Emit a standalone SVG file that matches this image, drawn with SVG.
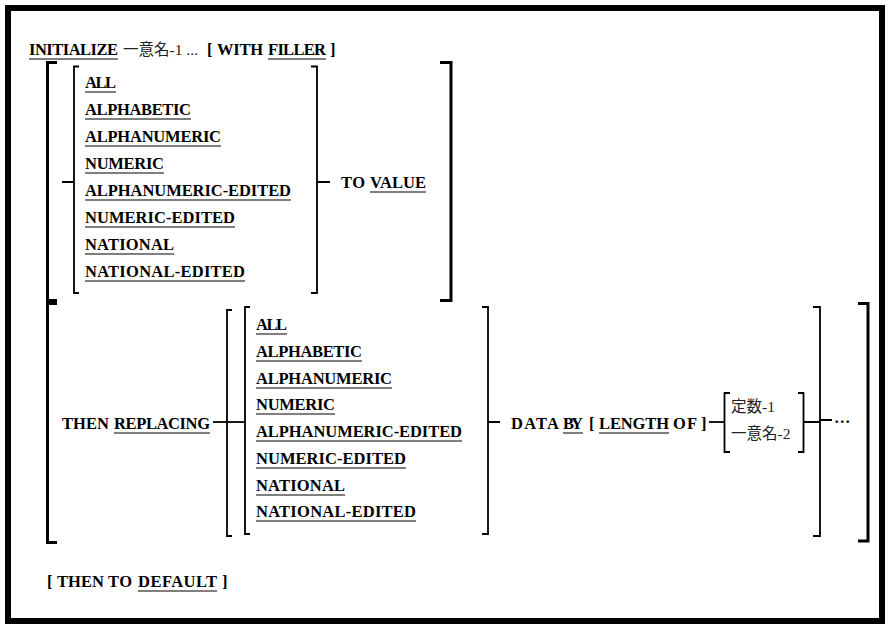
<svg xmlns="http://www.w3.org/2000/svg" width="893" height="632" viewBox="0 0 893 632">
<style>
.k{font-family:"Liberation Serif","Times New Roman",serif;font-weight:700;font-size:16.5px;fill:#000}
.c{font-family:"Liberation Serif","Noto Sans CJK JP",serif;font-weight:400;font-size:15.5px;fill:#222}
.u{stroke:#000;stroke-width:1.2;fill:none}
.b{stroke:#000;stroke-width:1.8;fill:none}
.B{stroke:#000;stroke-width:3;fill:none}
</style>
<rect x="8" y="8" width="874" height="613" fill="#fff" stroke="#000" stroke-width="6"/>
<g id="header">
<text class="k" x="29" y="55" textLength="89">INITIALIZE</text>
<text class="c" x="123" y="55">一意名-1 ...</text>
<text class="k" x="207" y="55">[</text>
<text class="k" x="217" y="55" textLength="46">WITH</text>
<text class="k" x="268" y="55" textLength="58">FILLER</text>
<text class="k" x="330" y="55">]</text>
<path class="u" d="M29,59H118M268,59H326"/>
</g>
<g id="list1">
<text class="k" x="85" y="88" textLength="31">ALL</text>
<text class="k" x="85" y="115" textLength="106">ALPHABETIC</text>
<text class="k" x="85" y="142" textLength="136">ALPHANUMERIC</text>
<text class="k" x="85" y="169" textLength="79">NUMERIC</text>
<text class="k" x="85" y="196" textLength="206">ALPHANUMERIC-EDITED</text>
<text class="k" x="85" y="223" textLength="150">NUMERIC-EDITED</text>
<text class="k" x="85" y="250" textLength="89">NATIONAL</text>
<text class="k" x="85" y="277" textLength="160">NATIONAL-EDITED</text>
<path class="u" d="M85,92H116M85,119H191M85,146H221M85,173H164M85,200H291M85,227H235M85,254H174M85,281H245"/>
</g>
<g id="to-value">
<text class="k" x="341" y="188" textLength="24">TO</text>
<text class="k" x="370" y="188" textLength="56">VALUE</text>
<line class="u" x1="370" y1="192" x2="426" y2="192"/>
</g>
<g id="then-replacing">
<text class="k" x="62" y="429" textLength="47">THEN</text>
<text class="k" x="114" y="429" textLength="96">REPLACING</text>
<line class="u" x1="114" y1="433" x2="210" y2="433"/>
</g>
<g id="list2">
<text class="k" x="256" y="330" textLength="31">ALL</text>
<text class="k" x="256" y="357" textLength="106">ALPHABETIC</text>
<text class="k" x="256" y="384" textLength="136">ALPHANUMERIC</text>
<text class="k" x="256" y="410" textLength="79">NUMERIC</text>
<text class="k" x="256" y="437" textLength="206">ALPHANUMERIC-EDITED</text>
<text class="k" x="256" y="464" textLength="150">NUMERIC-EDITED</text>
<text class="k" x="256" y="491" textLength="89">NATIONAL</text>
<text class="k" x="256" y="517" textLength="160">NATIONAL-EDITED</text>
<path class="u" d="M256,334H287M256,361H362M256,388H392M256,414H335M256,441H462M256,468H406M256,495H345M256,521H416"/>
</g>
<g id="data-by">
<text class="k" x="511" y="429" textLength="48">DATA</text>
<text class="k" x="563" y="429" textLength="20">BY</text>
<text class="k" x="589" y="429">[</text>
<text class="k" x="599" y="429" textLength="70">LENGTH</text>
<text class="k" x="673" y="429" textLength="24">OF</text>
<text class="k" x="701" y="429">]</text>
<path class="u" d="M563,433H583M599,433H669"/>
</g>
<g id="operands">
<text class="c" x="731" y="412">定数-1</text>
<text class="c" x="731" y="439">一意名-2</text>
</g>
<g id="ellipsis">
<text class="k" x="834" y="427">···</text>
</g>
<g id="default">
<text class="k" x="47" y="587">[</text>
<text class="k" x="57" y="587" textLength="47">THEN</text>
<text class="k" x="108" y="587" textLength="24">TO</text>
<text class="k" x="138" y="587" textLength="79">DEFAULT</text>
<text class="k" x="222" y="587">]</text>
<line class="u" x1="138" y1="591" x2="217" y2="591"/>
</g>
<g id="connectors">
<path class="B" d="M57,62.5H47.5V300.5H57"/>
<path class="B" d="M57,303.5H47.5V542.5H57"/>
<path class="B" d="M440,62.5H451V300.5H440"/>
<path class="B" d="M858,303.5H868V541H858"/>
<path class="b" d="M79,66.5H74V293H79M62,182H74"/>
<path class="b" d="M311,66.5H317V293H311M317,182H330"/>
<path class="b" d="M213,422H245"/>
<path class="b" d="M232,310H227V536H232"/>
<path class="b" d="M250,307H245V534H250"/>
<path class="b" d="M482,307H488V534H482M488,422H500"/>
<path class="b" d="M709,422H724"/>
<path class="b" d="M730,393H724.5V452H730"/>
<path class="b" d="M798,393H803.5V452H798M803,422H820"/>
<path class="b" d="M813,307H820V536H813M820,420H832"/>
</g>
</svg>
